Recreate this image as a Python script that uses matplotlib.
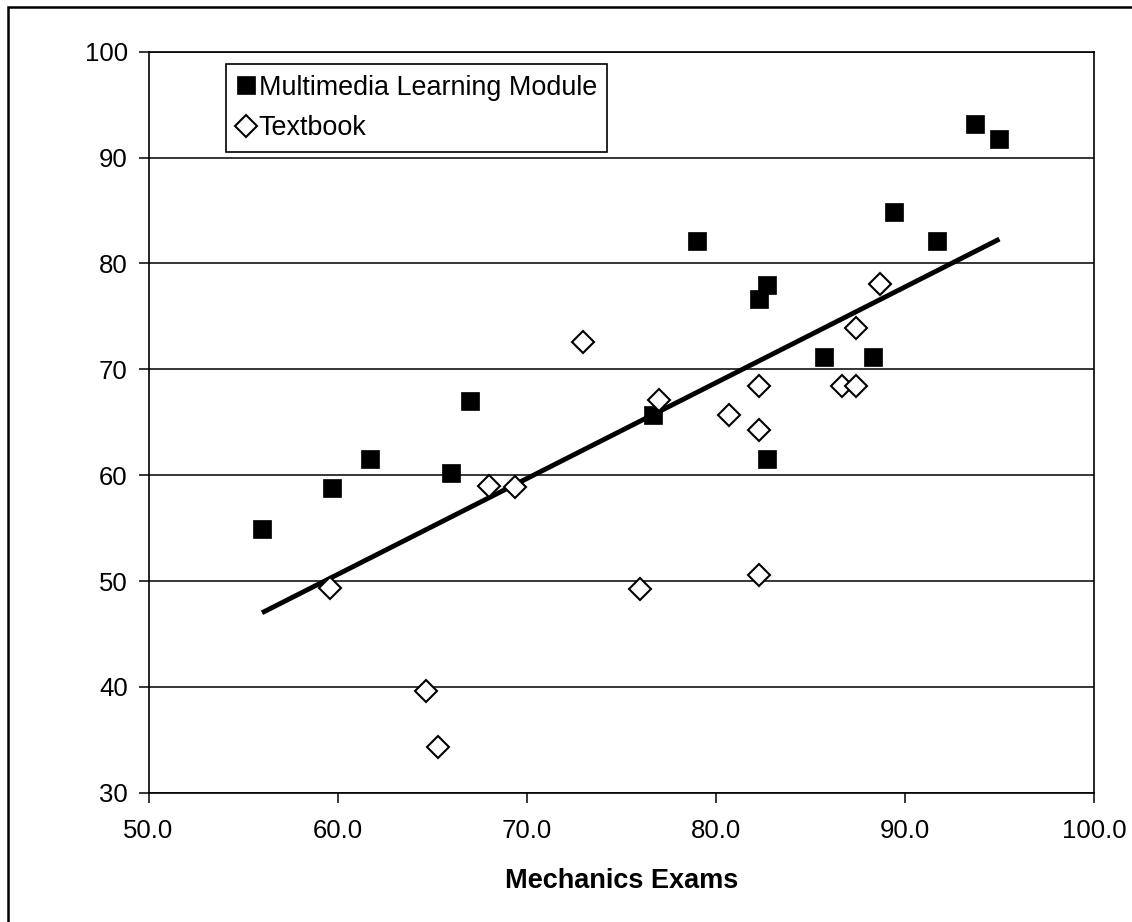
import matplotlib
matplotlib.use("Agg")
import matplotlib.pyplot as plt
from matplotlib.patches import Rectangle

plt.rcParams['font.family'] = ['Liberation Sans', 'DejaVu Sans']

# Multimedia Learning Module (filled squares)
mlm_x = [56.0, 59.7, 61.7, 66.0, 67.0, 76.7, 79.0, 82.3, 82.7, 82.7, 85.7, 88.3, 89.4, 91.7, 93.7, 95.0]
mlm_y = [54.9, 58.8, 61.5, 60.2, 67.0, 65.7, 82.1, 76.6, 78.0, 61.5, 71.2, 71.2, 84.9, 82.1, 93.2, 91.8]

# Textbook (open diamonds)
txt_x = [59.6, 64.7, 65.3, 68.0, 69.4, 73.0, 76.0, 77.0, 80.7, 82.3, 82.3, 82.3, 86.7, 87.4, 87.4, 88.7]
txt_y = [49.3, 39.6, 34.3, 59.0, 58.9, 72.6, 49.2, 67.1, 65.7, 68.4, 64.3, 50.6, 68.4, 68.4, 73.9, 78.1]

# trend line
trend_x = [56.0, 95.0]
trend_y = [47.0, 82.3]

x_ticks = [50, 60, 70, 80, 90, 100]
y_ticks = [30, 40, 50, 60, 70, 80, 90, 100]

fig = plt.figure(figsize=(11.32, 9.22), dpi=100)
ax = fig.add_axes([0.1312, 0.1402, 0.8352, 0.8037])

# outer frame of the chart area
fig.patches.append(Rectangle((0.0071, -0.02), 1.05, 0.9924 + 0.02, transform=fig.transFigure,
                             fill=False, edgecolor='black', linewidth=1.8))

for y in y_ticks:
    ax.axhline(y, color='black', linewidth=1.1, zorder=1)

ax.plot(trend_x, trend_y, color='black', linewidth=3.5, solid_capstyle='butt', zorder=2)
ax.plot(mlm_x, mlm_y, linestyle='none', marker='s', markersize=13.5, markerfacecolor='black',
        markeredgecolor='black', markeredgewidth=0.5, label='Multimedia Learning Module', zorder=3)
ax.plot(txt_x, txt_y, linestyle='none', marker='D', markersize=11.0, markerfacecolor='white',
        markeredgecolor='black', markeredgewidth=1.5, label='Textbook', zorder=3)

ax.set_xlim(50, 100)
ax.set_ylim(30, 100)
ax.set_xticks(x_ticks)
ax.set_xticklabels(['%.1f' % v for v in x_ticks])
ax.set_yticks(y_ticks)
ax.set_yticklabels([str(v) for v in y_ticks])
ax.tick_params(axis='both', direction='out', length=7, width=1.1, color='black', labelsize=18.5)
ax.tick_params(axis='x', pad=12)
ax.tick_params(axis='y', pad=8)
for s in ax.spines.values():
    s.set_linewidth(1.2)
    s.set_color('black')

ax.set_xlabel('Mechanics Exams', fontsize=19.5, fontweight='bold', labelpad=18)

leg = ax.legend(loc='upper left', bbox_to_anchor=(0.082, 0.983), borderaxespad=0,
                fontsize=19.4, frameon=True, fancybox=False, framealpha=1, edgecolor='black',
                borderpad=0.38, handlelength=0.75, handletextpad=0.08, labelspacing=0.55)
leg.get_frame().set_linewidth(1.2)

fig.savefig('out.png', dpi=100, facecolor='white')
